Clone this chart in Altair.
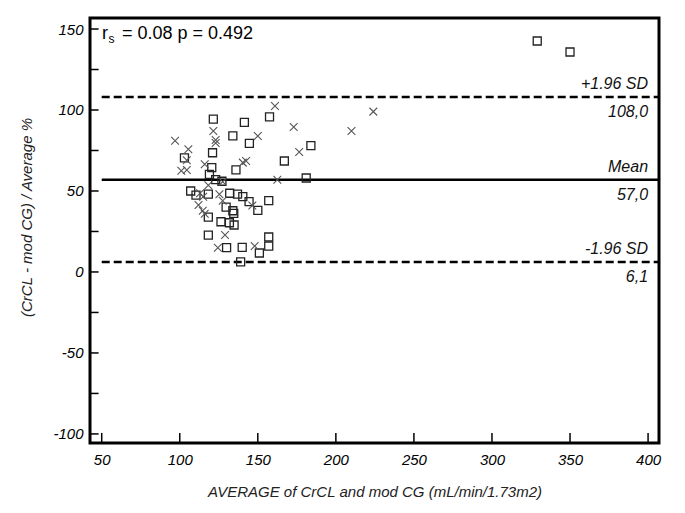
import altair as alt
import pandas as pd

# ---- data ----
sq_x = [121.5, 141.4, 134, 144.6, 121, 103, 120.5, 136, 119, 123, 127, 107, 110.4, 118.3, 132, 137,
        140.4, 144.4, 129.7, 134, 134.6, 118.3, 126.4, 131.8, 134.8, 118.3, 130, 140, 139,
        157.5, 184, 167, 181, 157, 150, 157, 157, 151, 329, 350]
sq_y = [94.4, 92.4, 84, 79.4, 73.6, 70.5, 64.4, 63, 60.3, 57, 56, 50, 47.5, 48, 48.6, 48,
        46.5, 43.4, 40, 37.8, 36.2, 33.8, 31, 30.4, 29, 22.8, 15, 15.2, 6.2,
        95.7, 78, 68.5, 58, 44, 38, 21.6, 16, 11.7, 142.6, 135.8]

cr_x = [97, 121.5, 123, 123, 105.5, 104.5, 101, 104.5, 116, 127.5, 118.3, 113, 115, 125.4, 112,
        127.5, 114.7, 116, 129, 124.4, 142.5, 140.4,
        161, 150, 173, 176.5, 210, 224, 162.5, 146.5, 148]
cr_y = [81, 87, 81.5, 79.6, 75.7, 69, 62.5, 63, 66.5, 55.7, 53.5, 48.6, 46.5, 48, 41.4,
        44, 37.8, 36, 22.8, 15, 68.5, 67.5,
        102.5, 84, 89.5, 74, 87, 99, 57, 41, 16]

line_names = ["+1.96 SD", "Mean", "-1.96 SD"]
line_values = [108.0, 57.0, 6.1]
line_labels = ["108,0", "57,0", "6,1"]

x_ticks = [50, 100, 150, 200, 250, 300, 350, 400]
y_ticks = [-100, -75, -50, -25, 0, 25, 50, 75, 100, 125, 150]
y_label_ticks = [-100, -50, 0, 50, 100, 150]

X_DOM = [42.5, 407]
Y_DOM = [-105.6, 156.8]

FONT = "Liberation Sans"

xs = alt.Scale(domain=X_DOM, nice=False, zero=False)
ys = alt.Scale(domain=Y_DOM, nice=False, zero=False)

sq_df = pd.DataFrame({"x": sq_x, "y": sq_y})
cr_df = pd.DataFrame({"x": cr_x, "y": cr_y})

base_axes = alt.Chart(pd.DataFrame({"x": [X_DOM[0]], "y": [Y_DOM[0]]})).mark_point(opacity=0).encode(
    x=alt.X("x:Q", scale=xs,
            axis=alt.Axis(values=x_ticks, title="AVERAGE of CrCL and mod CG (mL/min/1.73m2)",
                          grid=False, domain=False, ticks=False, labelPadding=9,
                          labelExpr="'' + datum.value",
                          labelFont=FONT, labelFontStyle="italic", labelFontSize=15, labelColor="#000",
                          titleFont=FONT, titleFontStyle="italic", titleFontSize=15, titleFontWeight="normal",
                          titleColor="#222", titleX=284.5, titleY=48, titleBaseline="middle")),
    y=alt.Y("y:Q", scale=ys,
            axis=alt.Axis(values=y_label_ticks, title="(CrCL - mod CG) / Average %",
                          grid=False, domain=False, ticks=False, labelPadding=7,
                          labelExpr="'' + datum.value",
                          labelFont=FONT, labelFontStyle="italic", labelFontSize=15, labelColor="#000",
                          titleFont=FONT, titleFontStyle="italic", titleFontSize=15, titleFontWeight="normal",
                          titleColor="#222", titleX=-64, titleY=199, titleAngle=-90,
                          titleAlign="center", titleBaseline="middle")),
)

# inward tick marks
xt_df = pd.DataFrame({"x": x_ticks, "y": [Y_DOM[0]] * len(x_ticks), "y2": [Y_DOM[0] + 6.2] * len(x_ticks)})
xtick_layer = alt.Chart(xt_df).mark_rule(color="#000", strokeWidth=1.5).encode(
    x=alt.X("x:Q", scale=xs), y=alt.Y("y:Q", scale=ys), y2="y2:Q")
yt_df = pd.DataFrame({"y": y_ticks, "x": [X_DOM[0]] * len(y_ticks), "x2": [X_DOM[0] + 5.5] * len(y_ticks)})
ytick_layer = alt.Chart(yt_df).mark_rule(color="#000", strokeWidth=1.5).encode(
    y=alt.Y("y:Q", scale=ys), x=alt.X("x:Q", scale=xs), x2="x2:Q")

# reference lines
lines_df = pd.DataFrame({"name": line_names, "v": line_values, "lab": line_labels,
                         "x": [50] * 3, "x2": [X_DOM[1]] * 3, "tx": [400] * 3})
dashed = alt.Chart(lines_df[lines_df["name"] != "Mean"]).mark_rule(
    color="#000", strokeWidth=2.5, strokeDash=[8, 4]).encode(
    x=alt.X("x:Q", scale=xs), x2="x2:Q", y=alt.Y("v:Q", scale=ys))
solid = alt.Chart(lines_df[lines_df["name"] == "Mean"]).mark_rule(
    color="#000", strokeWidth=2.5).encode(
    x=alt.X("x:Q", scale=xs), x2="x2:Q", y=alt.Y("v:Q", scale=ys))
name_text = alt.Chart(lines_df).mark_text(
    align="right", baseline="middle", dy=-13, font=FONT, fontStyle="italic", fontSize=16, color="#111").encode(
    x=alt.X("tx:Q", scale=xs), y=alt.Y("v:Q", scale=ys), text="name:N")
val_text = alt.Chart(lines_df).mark_text(
    align="right", baseline="middle", dy=15, font=FONT, fontStyle="italic", fontSize=16, color="#111").encode(
    x=alt.X("tx:Q", scale=xs), y=alt.Y("v:Q", scale=ys), text="lab:N")

# points
squares = alt.Chart(sq_df).mark_point(shape="square", filled=False, size=64, color="#222",
                                      strokeWidth=1.3, opacity=1).encode(
    x=alt.X("x:Q", scale=xs), y=alt.Y("y:Q", scale=ys))
crosses = alt.Chart(cr_df).mark_point(shape="M-1,-1L1,1M1,-1L-1,1", filled=False, size=60, color="#555",
                                      strokeWidth=1.1, opacity=1).encode(
    x=alt.X("x:Q", scale=xs), y=alt.Y("y:Q", scale=ys))

# correlation annotation
ann_df = pd.DataFrame({"x": [50.2, 54.4, 63.0], "y": [143.8, 141.2, 143.8],
                       "t": ["r", "s", "= 0.08 p = 0.492"]})
ann_main = alt.Chart(ann_df[ann_df["t"] != "s"]).mark_text(
    align="left", baseline="alphabetic", font=FONT, fontSize=18, color="#000").encode(
    x=alt.X("x:Q", scale=xs), y=alt.Y("y:Q", scale=ys), text="t:N")
ann_sub = alt.Chart(ann_df[ann_df["t"] == "s"]).mark_text(
    align="left", baseline="alphabetic", font=FONT, fontSize=12, color="#000").encode(
    x=alt.X("x:Q", scale=xs), y=alt.Y("y:Q", scale=ys), text="t:N")

chart = alt.layer(base_axes, xtick_layer, ytick_layer, dashed, solid, name_text, val_text,
                  squares, crosses, ann_main, ann_sub).properties(
    width=569, height=425,
    autosize=alt.AutoSizeParams(type="none"),
    padding={"left": 82, "top": 10, "right": 16, "bottom": 62},
    background="#ffffff",
).configure_view(stroke="#000", strokeWidth=3)

chart.save("out.html", embed_options={"renderer": "svg", "actions": False})
